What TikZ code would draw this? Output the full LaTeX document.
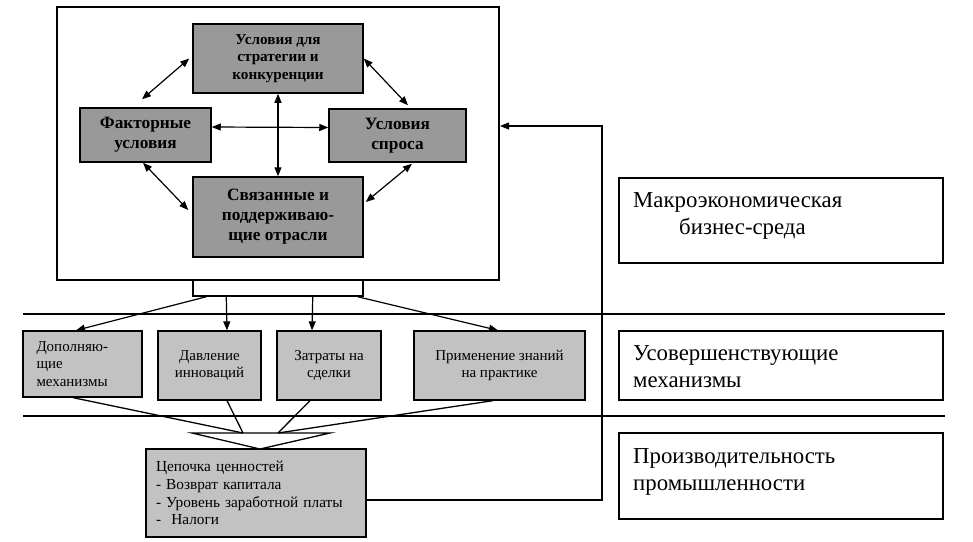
\documentclass[tikz,border=0pt]{standalone}
\usepackage{fontspec}
\setmainfont{Liberation Serif}
\usetikzlibrary{arrows.meta}
\definecolor{darkfill}{gray}{0.6}
\definecolor{lightfill}{gray}{0.76}
\tikzset{
  core/.style={draw, line width=1.5pt, fill=darkfill, align=center, inner sep=0pt},
  mech/.style={draw, line width=1.3pt, fill=lightfill, align=center, inner sep=0pt,
    font=\fontsize{15}{17.5}\selectfont},
  level/.style={draw, line width=1.5pt, inner sep=0pt},
  leveltext/.style={anchor=north west, align=left, inner sep=0pt,
    font=\fontsize{22.8}{27}\selectfont},
  arr/.style={-{Triangle[length=9pt,width=7pt]}, line width=1.2pt},
  darr/.style={{Triangle[length=9pt,width=7pt]}-{Triangle[length=9pt,width=7pt]}, line width=1.2pt},
}
\begin{document}
\begin{tikzpicture}[x=1pt,y=-1pt]
  \useasboundingbox (0,0) rectangle (973,541);
  % макроэкономическая среда: ромб
  \node[level, line width=2pt, minimum width=442pt, minimum height=273pt] (outer) at (278,143.5) {};
  \node[level, minimum width=170pt, minimum height=16pt] (conn) at (278,288) {};
  \node[core, minimum width=170pt, minimum height=69pt, font=\bfseries\fontsize{15.2}{17.5}\selectfont]
    (strat) at (278,58.5) {Условия для\\стратегии и\\конкуренции};
  \node[core, minimum width=131pt, minimum height=54pt, font=\bfseries\fontsize{17.3}{20}\selectfont]
    (factor) at (145.5,135) {Факторные\\условия};
  \node[core, minimum width=137pt, minimum height=53pt, font=\bfseries\fontsize{17.3}{20}\selectfont]
    (demand) at (397.5,135.5) {Условия\\спроса};
  \node[core, minimum width=170pt, minimum height=80pt, font=\bfseries\fontsize{17.3}{20}\selectfont]
    (related) at (278,217) {Связанные и\\поддерживаю-\\щие отрасли};
  \draw[darr] (factor.east) ++(0,8pt) -- ([yshift=8pt]demand.west);
  \draw[darr] (strat.south) -- (related.north);
  \draw[darr] ([xshift=-3.5pt,yshift=8pt]factor.north) -- ([xshift=-3pt]strat.west);
  \draw[darr] (strat.east) -- ([xshift=10.5pt,yshift=3pt]demand.north);
  \draw[darr] ([xshift=-2.5pt]factor.south) -- ([xshift=-4pt,yshift=7pt]related.west);
  \draw[darr] ([xshift=14.5pt,yshift=-1pt]demand.south) -- ([xshift=2pt,yshift=15pt]related.east);
  % границы уровней
  \draw[line width=2pt] (23,314) -- (945,314);
  \draw[line width=2pt] (23,416) -- (945,416);
  % усовершенствующие механизмы
  \node[mech, minimum width=119pt, minimum height=66pt, text width=92pt, align=left]
    (dop) at (82.5,364) {Дополняю-\\щие\\механизмы};
  \node[mech, minimum width=103pt, minimum height=69pt] (dav) at (209.5,365.5) {Давление\\инноваций};
  \node[mech, minimum width=104pt, minimum height=69pt] (zat) at (329,365.5) {Затраты на\\сделки};
  \node[mech, minimum width=171pt, minimum height=69pt] (prim) at (499.5,365.5) {Применение знаний\\на практике};
  \draw[arr] ([xshift=14pt]conn.south west) -- ([xshift=-6.5pt]dop.north);
  \draw[arr] ([xshift=34pt]conn.south west) -- ([xshift=17.5pt]dav.north);
  \draw[arr] ([xshift=-51pt]conn.south east) -- ([xshift=-17pt]zat.north);
  \draw[arr] ([xshift=-6pt]conn.south east) -- ([xshift=-1.5pt]prim.north);
  % производительность
  \node[mech, minimum width=220pt, minimum height=88pt, text width=200pt, align=left,
    font=\fontsize{15.3}{17.7}\selectfont] (chain) at (256,493)
    {Цепочка ценностей\\- Возврат капитала\\- Уровень заработной платы\\-~~Налоги};
  \coordinate (fl) at (192,433);
  \coordinate (fr) at (330,433);
  \coordinate (apex) at (260,449);
  \coordinate (jl) at (243,433);
  \coordinate (jr) at (278,433);
  \draw[line width=1.3pt, fill=white] (fl) -- (fr) -- (apex) -- cycle;
  \draw[line width=1.3pt] ([xshift=-9.5pt]dop.south) -- (jl);
  \draw[line width=1.3pt] ([xshift=17.5pt]dav.south) -- (jl);
  \draw[line width=1.3pt] ([xshift=-19pt]zat.south) -- (jr);
  \draw[line width=1.3pt] ([xshift=-6.5pt]prim.south) -- (jr);
  % обратная связь
  \coordinate (fb) at (602,126);
  \draw[arr] ([yshift=-7pt]chain.east) -| (fb) -- ([yshift=17.5pt]outer.east);
  % подписи уровней
  \node[level, minimum width=324pt, minimum height=85pt] (macro) at (781,220.5) {};
  \node[level, minimum width=324pt, minimum height=69pt] (improve) at (781,365.5) {};
  \node[level, minimum width=324pt, minimum height=86pt] (product) at (781,476) {};
  \node[leveltext] (macrotxt) at (633,192) {Макроэкономическая\\\hspace*{46pt}бизнес-среда};
  \node[leveltext] (improvetxt) at (633,345) {Усовершенствующие\\механизмы};
  \node[leveltext] (producttxt) at (633,448) {Производительность\\промышленности};
\end{tikzpicture}
\end{document}
